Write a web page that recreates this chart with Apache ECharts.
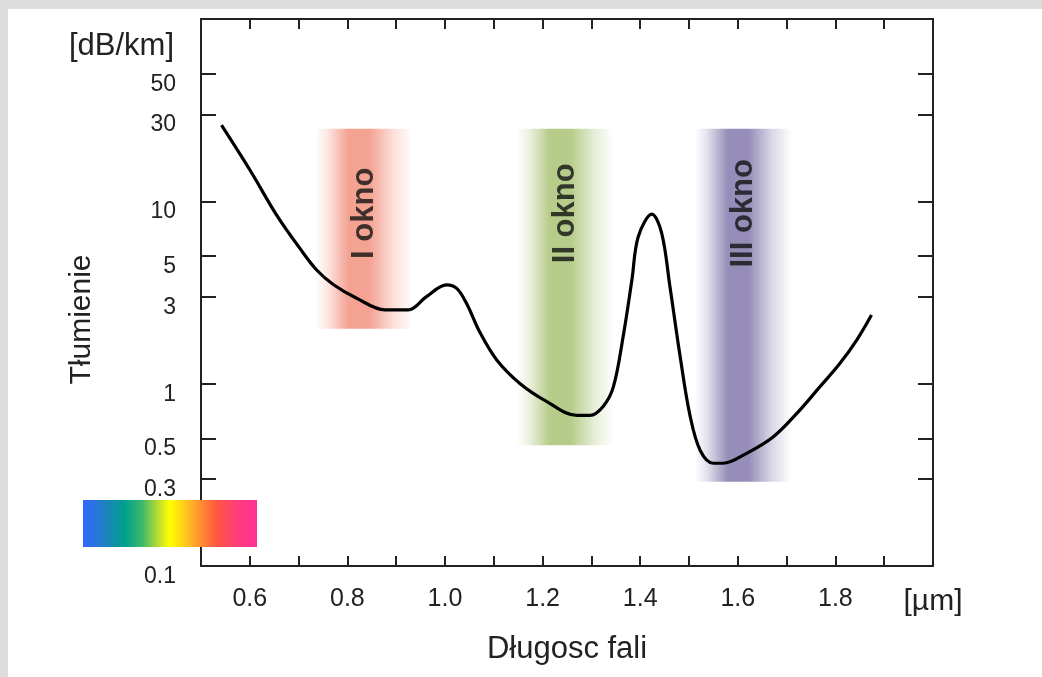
<!DOCTYPE html>
<html>
<head>
<meta charset="utf-8">
<title>Tłumienie światłowodu</title>
<script src="https://cdn.jsdelivr.net/npm/echarts@6/dist/echarts.min.js"></script>
<style>
  html, body { margin: 0; padding: 0; background: #dddddd; }
  #chart { position: absolute; left: 8px; top: 9px; width: 1034px; height: 668px; background: #fff; }
</style>
</head>
<body>
<div id="chart"></div>
<script>
// attenuation curve (wavelength in µm, dB/km)
const wavelength = [0.542, 0.600, 0.655, 0.703, 0.737, 0.771, 0.819, 0.877, 0.925, 0.962,
  1.003, 1.024, 1.044, 1.072, 1.106, 1.154, 1.208, 1.270, 1.297, 1.324,
  1.345, 1.365, 1.383, 1.396, 1.424, 1.444, 1.461, 1.482, 1.502, 1.523,
  1.550, 1.570, 1.618, 1.673, 1.721, 1.768, 1.809, 1.844, 1.874];
const attenuation = [26.2, 14.9, 8.4, 5.5, 4.2, 3.5, 2.94, 2.54, 2.54, 3.0,
  3.48, 3.33, 2.76, 1.9, 1.35, 1.0, 0.80, 0.67, 0.67, 0.75,
  0.96, 1.81, 3.7, 6.4, 8.5, 6.7, 3.4, 1.4, 0.67, 0.43,
  0.366, 0.366, 0.415, 0.512, 0.687, 0.96, 1.29, 1.74, 2.38];

const yTickValues = [0.1, 0.3, 0.5, 1, 3, 5, 10, 30, 50];
const xLabelValues = [0.6, 0.8, 1.0, 1.2, 1.4, 1.6, 1.8, 2.0];

// transmission windows
const windowNames = ['I okno', 'II okno', 'III okno'];
const windowFrom = [0.734, 1.147, 1.512];
const windowTo = [0.934, 1.345, 1.710];
const windowTop = [25, 25, 25];
const windowBottom = [2.0, 0.46, 0.29];
const windowLabelLevel = 8.6;
const windowColors = ['#f4a393', '#b7cc8a', '#968eb8'];

const FONT = 'Liberation Sans, Arial, sans-serif';
const INK = '#222';

function fade(hex, a) {
  const n = parseInt(hex.slice(1), 16);
  return 'rgba(' + (n >> 16) + ',' + ((n >> 8) & 255) + ',' + (n & 255) + ',' + a + ')';
}

function bandFill(hex) {
  return {
    type: 'linear', x: 0, y: 0, x2: 1, y2: 0,
    colorStops: [
      { offset: 0, color: fade(hex, 0) },
      { offset: 0.12, color: fade(hex, 0.25) },
      { offset: 0.34, color: fade(hex, 1) },
      { offset: 0.56, color: fade(hex, 1) },
      { offset: 0.8, color: fade(hex, 0.35) },
      { offset: 1, color: fade(hex, 0) }
    ]
  };
}

const myChart = echarts.init(document.getElementById('chart'));

const axisLine = { show: true, lineStyle: { color: INK, width: 2 } };

const option = {
  animation: false,
  textStyle: { fontFamily: FONT },
  grid: { left: 193, top: 10, right: 109, bottom: 111, outerBoundsMode: 'none' },
  xAxis: [
    {
      type: 'value', min: 0.5, max: 2.0, interval: 0.1, position: 'bottom',
      axisLine: axisLine,
      axisTick: { inside: true, length: 10, lineStyle: { color: INK, width: 2 } },
      axisLabel: {
        customValues: xLabelValues,
        margin: 21, fontSize: 25, color: INK,
        formatter: v => Math.abs(v - 2) < 1e-6 ? '{u|[µm]}' : v.toFixed(1),
        rich: { u: { fontSize: 30, color: INK, fontFamily: FONT } }
      },
      splitLine: { show: false },
      name: 'Długosc fali', nameLocation: 'middle', nameGap: 68,
      nameTextStyle: { fontSize: 31, color: INK }
    },
    {
      type: 'value', min: 0.5, max: 2.0, interval: 0.1, position: 'top',
      axisLine: axisLine,
      axisTick: { inside: true, length: 10, lineStyle: { color: INK, width: 2 } },
      axisLabel: { show: false },
      splitLine: { show: false }
    }
  ],
  yAxis: [
    {
      type: 'log', logBase: 10, min: 0.1, max: 100, position: 'left',
      axisLine: axisLine,
      axisTick: { inside: true, length: 15, customValues: yTickValues.slice(1), lineStyle: { color: INK, width: 2 } },
      axisLabel: {
        customValues: yTickValues,
        formatter: v => String(+v.toPrecision(3)),
        margin: 25, verticalAlign: 'top', lineHeight: 21, fontSize: 23, color: INK
      },
      splitLine: { show: false },
      minorTick: { show: false },
      name: 'Tłumienie', nameLocation: 'middle', nameGap: 104,
      nameTextStyle: { fontSize: 30, color: INK, padding: [0, 54, 0, 0] }
    },
    {
      type: 'log', logBase: 10, min: 0.1, max: 100, position: 'right',
      axisLine: axisLine,
      axisTick: { inside: true, length: 15, customValues: yTickValues.slice(1), lineStyle: { color: INK, width: 2 } },
      axisLabel: { show: false },
      splitLine: { show: false }
    },
    {
      type: 'log', logBase: 10, min: 0.1, max: 100, position: 'left',
      axisLine: { show: false }, axisTick: { show: false }, axisLabel: { show: false },
      splitLine: { show: false },
      name: '[dB/km]', nameLocation: 'end', nameGap: -27,
      nameTextStyle: { fontSize: 31, color: INK, align: 'right', verticalAlign: 'middle', padding: [0, 27, 0, 0] }
    }
  ],
  series: [
    {
      type: 'line', data: [], z: 1, silent: true,
      markArea: {
        silent: true,
        data: windowNames.map((n, i) => [
          { xAxis: windowFrom[i], yAxis: windowTop[i], itemStyle: { color: bandFill(windowColors[i]) } },
          { xAxis: windowTo[i], yAxis: windowBottom[i] }
        ])
      }
    },
    {
      type: 'line', z: 3,
      data: wavelength.map((x, i) => [x, attenuation[i]]),
      smooth: 0.35, symbol: 'none',
      lineStyle: { color: '#000', width: 3.2 }
    },
    {
      type: 'scatter', z: 4, silent: true,
      symbolSize: 1, itemStyle: { color: 'rgba(0,0,0,0)' },
      data: windowNames.map((n, i) => [(windowFrom[i] + windowTo[i]) / 2, windowLabelLevel, n]),
      label: {
        show: true, position: 'inside', rotate: 90,
        formatter: p => p.value[2],
        fontSize: 31, fontWeight: 'bold', color: '#111'
      }
    }
  ],
  graphic: [
    {
      type: 'rect', left: 75, top: 491, z: 100,
      shape: { width: 174, height: 47 },
      style: {
        fill: {
          type: 'linear', x: 0, y: 0, x2: 1, y2: 0,
          colorStops: [
            { offset: 0, color: '#3366ff' },
            { offset: 0.12, color: '#1f80c4' },
            { offset: 0.24, color: '#00a08e' },
            { offset: 0.34, color: '#3cb86c' },
            { offset: 0.43, color: '#b8dc30' },
            { offset: 0.5, color: '#ffff00' },
            { offset: 0.6, color: '#ffc020' },
            { offset: 0.68, color: '#ff8c30' },
            { offset: 0.77, color: '#ff5540' },
            { offset: 0.9, color: '#ff3a80' },
            { offset: 1, color: '#ff3090' }
          ]
        }
      }
    }
  ]
};

myChart.setOption(option);
</script>
</body>
</html>
